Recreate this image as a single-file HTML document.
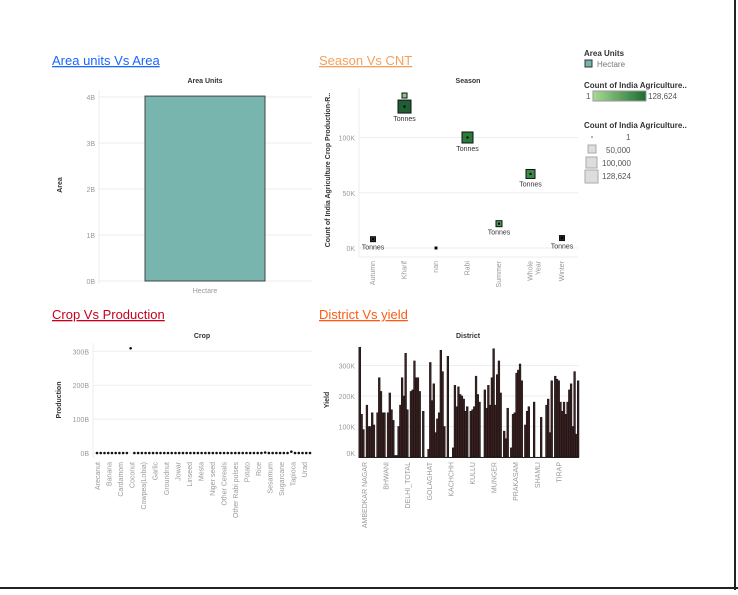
<!DOCTYPE html>
<html><head><meta charset="utf-8"><style>
body{margin:0;background:#fff;width:738px;height:590px;overflow:hidden;font-family:"Liberation Sans",sans-serif}
svg text{font-family:"Liberation Sans",sans-serif}
</style></head><body>
<svg id="s" width="738" height="590">
<line x1="735" y1="0" x2="735" y2="590" stroke="#222" stroke-width="2"/>
<line x1="0" y1="588" x2="738" y2="588" stroke="#222" stroke-width="2"/>
<text x="52" y="65" font-size="13" fill="#1a66ff" text-decoration="underline">Area units Vs Area</text>
<text x="319" y="65" font-size="13" fill="#f5a05a" text-decoration="underline">Season Vs CNT</text>
<text x="52" y="319" font-size="13" fill="#c8001e" text-decoration="underline">Crop Vs Production</text>
<text x="319" y="319" font-size="13" fill="#ff5a14" text-decoration="underline">District Vs yield</text>
<g id="g1"></g><g id="g2"></g><g id="g3"></g><g id="g4"></g>
<g font-size="8">
<text x="584" y="56" font-weight="bold" fill="#333">Area Units</text>
<rect x="585" y="60" width="7" height="7" fill="#76b5ae" stroke="#333"/>
<text x="597" y="67" fill="#777">Hectare</text>
<defs><linearGradient id="gr"><stop offset="0" stop-color="#a8dc94"/><stop offset="1" stop-color="#1e6b34"/></linearGradient></defs>
<text x="584" y="88" font-weight="bold" fill="#333">Count of India Agriculture..</text>
<text x="586" y="99" fill="#555">1</text>
<rect x="593" y="91" width="53" height="10" fill="url(#gr)" stroke="#999"/>
<text x="648" y="99" fill="#555">128,624</text>
<text x="584" y="128" font-weight="bold" fill="#333">Count of India Agriculture..</text>
<circle cx="592" cy="137" r="1" fill="#999"/>
<text x="626" y="140" fill="#555">1</text>
<rect x="588" y="145" width="8" height="8" fill="#ddd" stroke="#aaa"/>
<text x="606" y="153" fill="#555">50,000</text>
<rect x="586" y="157" width="11" height="11" fill="#ddd" stroke="#aaa"/>
<text x="602" y="166" fill="#555">100,000</text>
<rect x="585" y="170" width="13" height="13" fill="#ddd" stroke="#aaa"/>
<text x="602" y="179" fill="#555">128,624</text>
</g>
</svg>
<script>
const NS="http://www.w3.org/2000/svg";
function mk(p,t,a,txt){const e=document.createElementNS(NS,t);for(const k in a)e.setAttribute(k,a[k]);if(txt!==undefined)e.textContent=txt;p.appendChild(e);return e;}
// Chart 1 data
const areaCats=["Hectare"];
const areaVals=[4.02];
const areaTicks=[0,1,2,3,4];
// Chart 2 data
const seasonCats=["Autumn","Kharif","nan","Rabi","Summer","Whole Year","Winter"];
const seasonVals=[8,128,0,100,22,67,9];
const seasonSizes=[5,13,2,11,6,9,5];
const seasonTicks=[0,50,100];
// Chart 3 data
const cropLabels=["Arecanut","Banana","Cardamom","Coconut","Cowpea(Lobia)","Garlic","Groundnut","Jowar","Linseed","Mesta","Niger seed","Other Cereals","Other Rabi pulses","Potato","Rice","Sesamum","Sugarcane","Tapioca","Urad"];
const cropVals=[0,0,0,0,0,0,0,0,0,309,0,0,0,0,0,0,0,0,0,0,0,0,0,0,0,0,0,0,0,0,0,0,0,0,0,0,0,0,0,0,0,0,0,0,0,1.5,0,0,0,0,0,0,4,0,0,0,0,0];
const cropTicks=[0,100,200,300];
// Chart 4 data
const districtLabels=["AMBEDKAR NAGAR","BHWANI","DELHI_TOTAL","GOLAGHAT","KACHCHH","KULLU","MUNGER","PRAKASAM","SHAMLI","TIRAP"];
const yieldVals=[360,140,90,0,170,100,100,145,105,0,145,260,215,145,145,0,145,210,155,120,5,5,100,170,260,200,340,155,0,215,220,315,260,260,215,0,150,0,0,25,310,185,240,80,125,145,350,280,100,0,330,0,0,30,235,165,230,205,200,190,150,165,0,150,155,165,265,205,180,0,0,220,160,235,170,260,355,170,270,315,210,0,85,60,160,0,30,140,145,275,285,305,250,0,105,150,165,0,0,180,0,0,0,130,0,0,170,190,80,250,0,265,255,250,180,150,180,140,180,220,240,100,280,75,250];
const yieldTicks=[0,100,200,300];

// Chart 1
(function(){const g=document.getElementById('g1');
const x0=99,x1=312,y=v=>281-v*46;
mk(g,'text',{x:205,y:83,'font-size':7,'font-weight':'bold','text-anchor':'middle',fill:'#333'},'Area Units');
areaTicks.forEach(t=>{const l=mk(g,'line',{x1:x0,x2:x1,y1:y(t),y2:y(t),stroke:'#eee'});
const tx=mk(g,'text',{x:95,y:y(t)+3,'font-size':7,fill:'#999','text-anchor':'end'},t+'B');});
mk(g,'line',{x1:x0,x2:x0,y1:90,y2:284,stroke:'#eee'});
areaCats.forEach((c,i)=>{const r=mk(g,'rect',{x:145,y:y(areaVals[i]),width:120,height:281-y(areaVals[i]),fill:'#78b5ae',stroke:'#444'});

const tx=mk(g,'text',{x:205,y:293,'font-size':7,fill:'#999','text-anchor':'middle'},c);});
const at=mk(g,'text',{x:0,y:0,'font-size':7,'font-weight':'bold',fill:'#333','text-anchor':'middle',transform:'translate(62,185) rotate(-90)'},'Area');
})();
// Chart 2
(function(){const g=document.getElementById('g2');
const x0=359,x1=578,y=v=>248-v*1.105,cx=i=>373+i*31.5;
mk(g,'text',{x:468,y:83,'font-size':7,'font-weight':'bold','text-anchor':'middle',fill:'#333'},'Season');
seasonTicks.forEach(t=>{const l=mk(g,'line',{x1:x0,x2:x1,y1:y(t),y2:y(t),stroke:'#eee'});
const tx=mk(g,'text',{x:355,y:y(t)+3,'font-size':7,fill:'#999','text-anchor':'end'},t+'K');});
mk(g,'line',{x1:x0,x2:x0,y1:88,y2:257,stroke:'#eee'});
mk(g,'line',{x1:x0,x2:x1,y1:257,y2:257,stroke:'#eee'});
const at=mk(g,'text',{x:0,y:0,'font-size':7,'font-weight':'bold',fill:'#333','text-anchor':'middle',transform:'translate(330,170) rotate(-90)'},'Count of India Agriculture Crop Production-R..');
const cols=['#1e3a22','#1e5e32','#111','#2a7a3c','#4a9a50','#3a8a44','#222'];
seasonCats.forEach((c,i)=>{const s=seasonSizes[i],yy=y(seasonVals[i]);
const r=mk(g,'rect',{x:cx(i)-s/2,y:yy-s/2,width:s,height:s,fill:cols[i],stroke:'#111'});
mk(g,'rect',{x:cx(i)-1,y:yy-1,width:2,height:2,fill:'#000'});
if(c!=='nan'){const tl=mk(g,'text',{x:cx(i),y:yy+s/2+8,'font-size':7,fill:'#333','text-anchor':'middle'},'Tonnes');}
const lines=c==='Whole Year'?['Whole','Year']:[c];
lines.forEach((ln,k)=>{const tx=mk(g,'text',{x:0,y:0,'font-size':7,fill:'#999','text-anchor':'end',transform:`translate(${cx(i)+2+k*8},261) rotate(-90)`},ln);});});
const k2=mk(g,'rect',{x:cx(1)-2.5,y:y(138)-2.5,width:5,height:5,fill:'#8bc880',stroke:'#111'});
})();
// Chart 3
(function(){const g=document.getElementById('g3');
const x0=93,x1=312,y=v=>453-v*0.339,n=cropVals.length,cx=i=>97+i*(213/(n-1));
mk(g,'text',{x:202,y:338,'font-size':7,'font-weight':'bold','text-anchor':'middle',fill:'#333'},'Crop');
cropTicks.forEach(t=>{const l=mk(g,'line',{x1:x0,x2:x1,y1:y(t),y2:y(t),stroke:'#eee'});
const tx=mk(g,'text',{x:89,y:y(t)+3,'font-size':7,fill:'#999','text-anchor':'end'},t+'B');});
mk(g,'line',{x1:x0,x2:x0,y1:343,y2:458,stroke:'#eee'});
const at=mk(g,'text',{x:0,y:0,'font-size':7,'font-weight':'bold',fill:'#333','text-anchor':'middle',transform:'translate(61,400) rotate(-90)'},'Production');
cropVals.forEach((v,i)=>{const c=mk(g,'circle',{cx:cx(i),cy:y(v),r:1.3,fill:'#111'});});
cropLabels.forEach((c,i)=>{const tx=mk(g,'text',{x:0,y:0,'font-size':7,fill:'#999','text-anchor':'end',transform:`translate(${100+i*11.5},462) rotate(-90)`},c);});
})();
// Chart 4
(function(){const g=document.getElementById('g4');
const x0=359,x1=579,y=v=>457-v*0.305,n=yieldVals.length,bw=(x1-x0)/n;
mk(g,'text',{x:468,y:338,'font-size':7,'font-weight':'bold','text-anchor':'middle',fill:'#333'},'District');
yieldTicks.forEach(t=>{const l=mk(g,'line',{x1:x0,x2:x1,y1:y(t),y2:y(t),stroke:'#eee'});
const tx=mk(g,'text',{x:355,y:Math.min(y(t)+3,456),'font-size':7,fill:'#999','text-anchor':'end'},t+'K');});
const at=mk(g,'text',{x:0,y:0,'font-size':7,'font-weight':'bold',fill:'#333','text-anchor':'middle',transform:'translate(329,400) rotate(-90)'},'Yield');
yieldVals.forEach((v,i)=>{const r=mk(g,'rect',{x:x0+i*bw,y:y(v),width:bw,height:457-y(v),fill:'#3d2020',stroke:'#111','stroke-width':0.5});});
mk(g,'line',{x1:x0,x2:x1,y1:457.5,y2:457.5,stroke:'#222'});
mk(g,'line',{x1:x0,x2:x0,y1:347,y2:458,stroke:'#222'});
districtLabels.forEach((c,i)=>{const tx=mk(g,'text',{x:0,y:0,'font-size':7,fill:'#999','text-anchor':'end',transform:`translate(${367+i*21.6},462) rotate(-90)`},c);});
})();
</script>
</body></html>
